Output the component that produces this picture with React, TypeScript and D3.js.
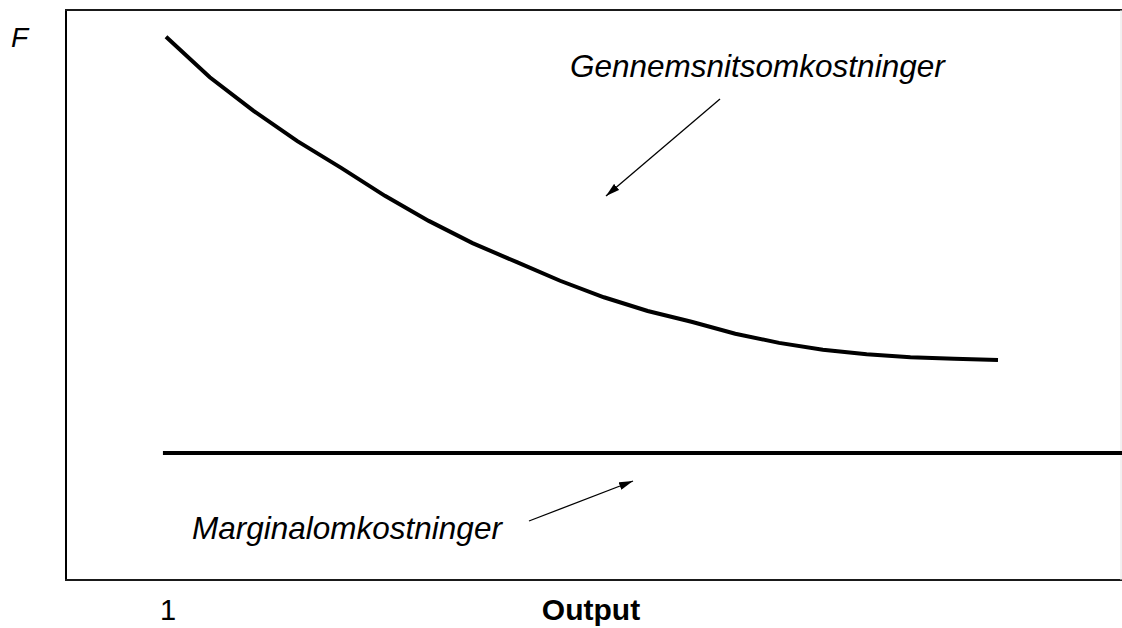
import * as d3 from 'd3';

// output levels and costs
const output = [1, 2, 3, 4, 5, 6, 7, 8, 9, 10, 11, 12, 13, 14, 15, 16, 17, 18, 19, 20];
const avgCost = [9.53, 8.82, 8.23, 7.7, 7.23, 6.74, 6.3, 5.91, 5.58, 5.25, 4.96, 4.72, 4.53, 4.32, 4.16, 4.04, 3.96, 3.91, 3.88, 3.86];
const marginalOutput = [0.93, 23];
const marginalCost = 2.23;
const xTickLabel = '1';
const xTitle = 'Output';
const yTitle = 'F';
const avgLabel = 'Gennemsnitsomkostninger';
const marginalLabel = 'Marginalomkostninger';

const W = 1122;
const H = 628;
const box = { left: 66, top: 10, right: 1121, bottom: 580 };

export default function App() {
  const x = d3.scaleLinear().domain([1, 20]).range([166, 998]);
  const y = d3.scaleLinear().domain([0, 10]).range([box.bottom, box.top]);

  const line = d3
    .line<[number, number]>()
    .x(d => x(d[0]))
    .y(d => y(d[1]));

  const avgPath = line(output.map((o, i) => [o, avgCost[i]]));
  const mcPath = line(marginalOutput.map(o => [o, marginalCost]));

  const font = '"Liberation Sans", Arial, sans-serif';

  return (
    <svg
      width={W}
      height={H}
      style={{ position: 'absolute', left: 0, top: 0, background: '#fff', overflow: 'hidden' }}
    >
      <defs>
        <marker id="arrow" viewBox="0 0 14 8" refX="14" refY="4" markerWidth="14" markerHeight="8" markerUnits="userSpaceOnUse" orient="auto">
          <path d="M0,0 L14,4 L0,8 Z" fill="#000" />
        </marker>
      </defs>

      {/* frame */}
      <line x1={box.left} x2={box.left} y1={box.top} y2={box.bottom + 1} stroke="#000" strokeWidth={2} />
      <line x1={box.left - 1} x2={W} y1={box.top} y2={box.top} stroke="#1a1a1a" strokeWidth={2} />
      <line x1={box.left - 1} x2={W} y1={box.bottom} y2={box.bottom} stroke="#1a1a1a" strokeWidth={2} />
      <line x1={box.right} x2={box.right} y1={box.top} y2={box.bottom} stroke="#e4e4e4" strokeWidth={1} />

      <path d={avgPath ?? ''} fill="none" stroke="#000" strokeWidth={4} />
      <path d={mcPath ?? ''} fill="none" stroke="#000" strokeWidth={4} />

      {/* annotation arrows */}
      <line x1={720} y1={99} x2={606} y2={196} stroke="#000" strokeWidth={1.3} markerEnd="url(#arrow)" />
      <line x1={529} y1={521} x2={633} y2={481} stroke="#000" strokeWidth={1.3} markerEnd="url(#arrow)" />

      <g fontFamily={font} fill="#000">
        <text x={11} y={47} fontSize={28} fontStyle="italic">{yTitle}</text>
        <text x={570} y={77} fontSize={31.5} fontStyle="italic">{avgLabel}</text>
        <text x={192} y={539} fontSize={31.5} fontStyle="italic">{marginalLabel}</text>
        <text x={x(1) + 2} y={620} fontSize={29} textAnchor="middle">{xTickLabel}</text>
        <text x={591} y={620} fontSize={30} fontWeight="bold" textAnchor="middle">{xTitle}</text>
      </g>
    </svg>
  );
}
